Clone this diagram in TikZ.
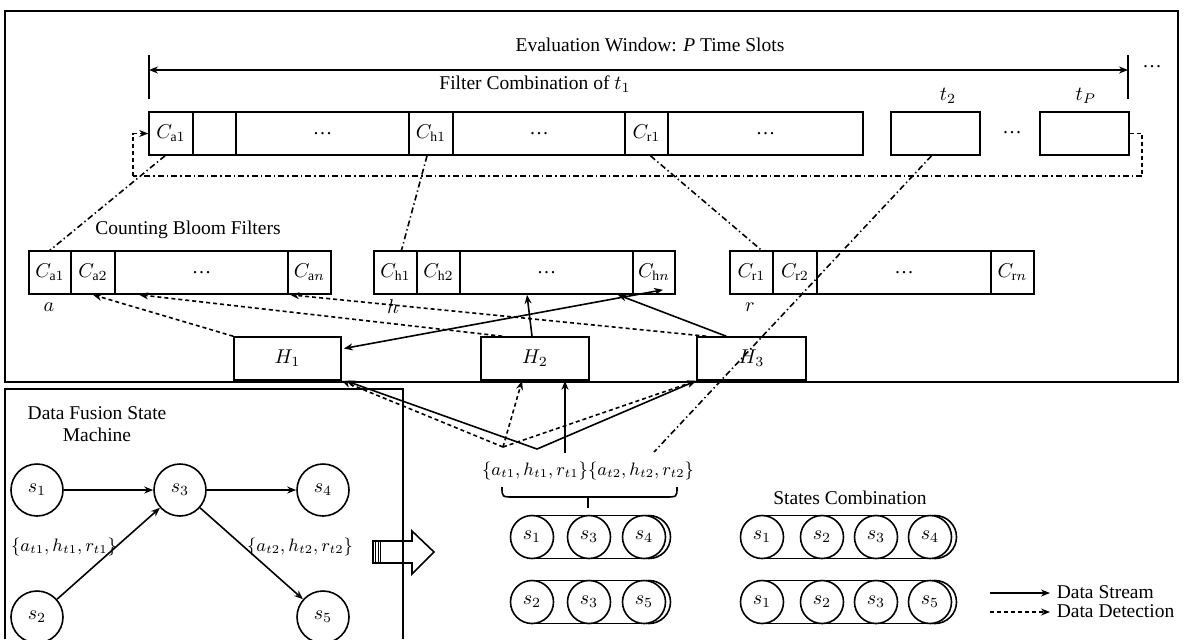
\documentclass[tikz,border=0pt]{standalone}
\usepackage{fontspec}
\setmainfont{Liberation Serif}
\usetikzlibrary{arrows.meta,calc}
\begin{document}
\begin{tikzpicture}[x=0.5pt,y=-0.5pt, line width=0.8pt,
  font=\fontsize{9.75}{11}\selectfont,
  cell/.style={draw, minimum height=21.5pt, inner sep=0pt},
  st/.style={draw, circle, minimum size=26pt, inner sep=0pt},
  cs/.style={draw, circle, fill=white, minimum size=21.5pt, inner sep=0pt},
  setlab/.style={font=\fontsize{8.9}{10}\selectfont, inner sep=1pt},
  tip/.style={-{Stealth[length=4.5pt,width=3.5pt]}},
  stream/.style={tip},
  detect/.style={tip, dash pattern=on 2pt off 1.5pt},
  dsh/.style={dash pattern=on 2pt off 1.5pt},
  dd/.style={dash pattern=on 3pt off 1.5pt on 0.7pt off 1.5pt}]
\useasboundingbox (0,0) rectangle (1186,639);
% frames
\draw (5,11) rectangle (1178,382);
\draw (5,639) -- (5,389) -- (403,389) -- (403,639);
% evaluation window
\node (evtxt) at (650,45) {Evaluation Window: \textit{P} Time Slots};
\coordinate (evL) at (149,70);
\coordinate (evR) at (1128,70);
\draw[{Stealth[length=4.5pt,width=3.5pt]}-{Stealth[length=4.5pt,width=3.5pt]}] (evL) -- (evR);
\draw (149,55) -- (149,99);
\draw (1128,55) -- (1128,99);
\node (evdots) at (1152,67) {\dots};
\node (fctxt) at (535,84) {Filter Combination of $t_1$};
\node (t2lab) at (948,96) {$t_2$};
\node (tPlab) at (1086,96) {$t_P$};
% filter combination row
\node[cell, minimum width=22pt]   (fa1) at (171,133.5) {$C_{\mathrm{a}1}$};
\node[cell, minimum width=21.5pt] (fb)  at (214.5,133.5) {};
\node[cell, minimum width=86.5pt] (fd1) at (322.5,133.5) {\dots};
\node[cell, minimum width=22pt]   (fh1) at (431,133.5) {$C_{\mathrm{h}1}$};
\node[cell, minimum width=86pt]   (fd2) at (539,133.5) {\dots};
\node[cell, minimum width=21.5pt] (fr1) at (646.5,133.5) {$C_{\mathrm{r}1}$};
\node[cell, minimum width=97.5pt] (fd3) at (765.5,133.5) {\dots};
\node[cell, minimum width=44.5pt] (ft2) at (935.5,133.5) {};
\node (fdots) at (1012,133) {\dots};
\node[cell, minimum width=44.5pt] (ftP) at (1084.5,133.5) {};
% feedback loop
\coordinate (loopR) at (1142,176);
\coordinate (loopL) at (133,176);
\draw[dsh] (ftP.east) -| (loopR);
\draw[dd] (loopR) -- (loopL);
\draw[detect] (loopL) |- (fa1.west);
% counting bloom filters
\node (cbf) at (188,230) {Counting Bloom Filters};
\node[cell, minimum width=21pt]   (ba1) at (50,272.5) {$C_{\mathrm{a}1}$};
\node[cell, minimum width=22pt]   (ba2) at (93,272.5) {$C_{\mathrm{a}2}$};
\node[cell, minimum width=86.5pt] (bad) at (201.5,272.5) {\dots};
\node[cell, minimum width=21.5pt] (ban) at (309.5,272.5) {$C_{\mathrm{a}n}$};
\node[cell, minimum width=21.5pt] (bh1) at (395.5,272.5) {$C_{\mathrm{h}1}$};
\node[cell, minimum width=21.5pt] (bh2) at (438.5,272.5) {$C_{\mathrm{h}2}$};
\node[cell, minimum width=86.5pt] (bhd) at (546.5,272.5) {\dots};
\node[cell, minimum width=21pt]   (bhn) at (654,272.5) {$C_{\mathrm{h}n}$};
\node[cell, minimum width=21.5pt] (br1) at (751.5,272.5) {$C_{\mathrm{r}1}$};
\node[cell, minimum width=22pt]   (br2) at (795,272.5) {$C_{\mathrm{r}2}$};
\node[cell, minimum width=87pt]   (brd) at (904,272.5) {\dots};
\node[cell, minimum width=21.5pt] (brn) at (1012.5,272.5) {$C_{\mathrm{r}n}$};
\node (la) at (49,307) {$a$};
\node (lh) at (393,307) {$h$};
\node (lr) at (750,307) {$r$};
% hash boxes
\node[cell, minimum width=53.5pt] (H1) at (287.5,358.5) {$H_1$};
\node[cell, minimum width=54pt]   (H2) at (535,358.5) {$H_2$};
\node[cell, minimum width=54.5pt] (H3) at (751.5,358.5) {$H_3$};
% dash-dot links
\draw[dd] ([xshift=-3pt]fa1.south) -- (ba1.north);
\draw[dd] ([xshift=-2pt]fh1.south) -- ([xshift=3pt]bh1.north);
\draw[dd] ([xshift=2pt]fr1.south) -- ([xshift=5pt]br1.north);
\coordinate (t2end) at (654,452);
\draw[dd] ([xshift=-2pt]ft2.south) -- (t2end);
% hash to filters
\draw[detect] (H1.north west) -- (ba2.south);
\draw[detect] ($(H2.north west)+(22,0)$) -- ($(bad.south west)+(25,0)$);
\draw[detect] ($(H3.north west)+(10,0)$) -- ($(ban.south west)+(3,0)$);
\draw[stream] ($(H3.north west)+(30,0)$) -- ($(bhd.south east)+(-16,0)$);
\draw[stream] ($(H2.north)+(-3,0)$) -- ($(bhd.south)+(-19.5,0)$);
\draw[{Stealth[length=4.5pt,width=3.5pt]}-{Stealth[length=4.5pt,width=3.5pt]}] ($(H1.east)+(2,-10)$) -- ($(bhn.south)+(9,-5)$);
% sets and inputs to hash boxes
\node[setlab] (set1) at (535,471) {$\{a_{t1},h_{t1},r_{t1}\}$};
\node[setlab] (set2) at (641,471) {$\{a_{t2},h_{t2},r_{t2}\}$};
\coordinate (V1) at (537,449);
\coordinate (V2) at (503,447);
\coordinate (V3) at (565,453);
\draw[stream] (V1) -- ($(H1.south east)+(4,0)$);
\draw[stream] (V1) -- (H3.south west);
\draw[stream] (V3) -- ($(H2.south)+(30,0)$);
\draw[detect] (V2) -- (H1.south east);
\draw[detect] (V2) -- ($(H2.south)+(-13,0)$);
\draw[detect] (V2) -- (H3.south west);
% brace
\draw (502,487) .. controls (502,497) .. (514,497) -- (665,497) .. controls (677,497) .. (677,487);
\draw (588,497) -- (588,508);
% state cylinders
\node (sc) at (850,498) {States Combination};
\draw (649,537) circle[radius=21.5];
\draw (532,515.5) -- (649,515.5) (532,558.5) -- (649,558.5);
\node[cs] (g1a) at (532,537) {$s_1$};
\node[cs] (g1b) at (589,537) {$s_3$};
\node[cs] (g1c) at (644,537) {$s_4$};
\draw (649,602) circle[radius=21.5];
\draw (532,580.5) -- (649,580.5) (532,623.5) -- (649,623.5);
\node[cs] (g2a) at (532,602) {$s_2$};
\node[cs] (g2b) at (589,602) {$s_3$};
\node[cs] (g2c) at (644,602) {$s_5$};
\draw (935,537) circle[radius=21.5];
\draw (762,515.5) -- (935,515.5) (762,558.5) -- (935,558.5);
\node[cs] (g3a) at (762,537) {$s_1$};
\node[cs] (g3b) at (822,537) {$s_2$};
\node[cs] (g3c) at (876,537) {$s_3$};
\node[cs] (g3d) at (930,537) {$s_4$};
\draw (935,602) circle[radius=21.5];
\draw (762,580.5) -- (935,580.5) (762,623.5) -- (935,623.5);
\node[cs] (g4a) at (762,602) {$s_1$};
\node[cs] (g4b) at (822,602) {$s_2$};
\node[cs] (g4c) at (876,602) {$s_3$};
\node[cs] (g4d) at (930,602) {$s_5$};
% legend
\coordinate (lg1a) at (990,593);
\coordinate (lg1b) at (1050,593);
\coordinate (lg2a) at (990,612);
\coordinate (lg2b) at (1050,612);
\draw[stream] (lg1a) -- (lg1b);
\draw[detect] (lg2a) -- (lg2b);
\node[anchor=west, inner sep=0pt] (lgt1) at (1056,592) {Data Stream};
\node[anchor=west, inner sep=0pt] (lgt2) at (1056,611) {Data Detection};
% state machine
\node[align=center] (dfsm) at (97,424) {Data Fusion State\\Machine};
\node[st] (s1) at (37,490) {$s_1$};
\node[st] (s3) at (180,490) {$s_3$};
\node[st] (s4) at (323,490) {$s_4$};
\node[st] (s2) at (37,617) {$s_2$};
\node[st] (s5) at (323,617) {$s_5$};
\draw[stream] (s1) -- (s3);
\draw[stream] (s3) -- (s4);
\draw[stream] (s2) -- (s3);
\draw[stream] (s3) -- (s5);
\node[setlab] (e1) at (64,547) {$\{a_{t1},h_{t1},r_{t1}\}$};
\node[setlab] (e2) at (300,547) {$\{a_{t2},h_{t2},r_{t2}\}$};
% big hollow arrow
\draw (373,541) -- (412,541) -- (412,531) -- (434,552) -- (412,574) -- (412,563) -- (373,563) -- cycle;
\draw[line width=0.5pt] (375.5,541) -- (375.5,563) (378,541) -- (378,563) (380.5,541) -- (380.5,563);
\end{tikzpicture}
\end{document}
